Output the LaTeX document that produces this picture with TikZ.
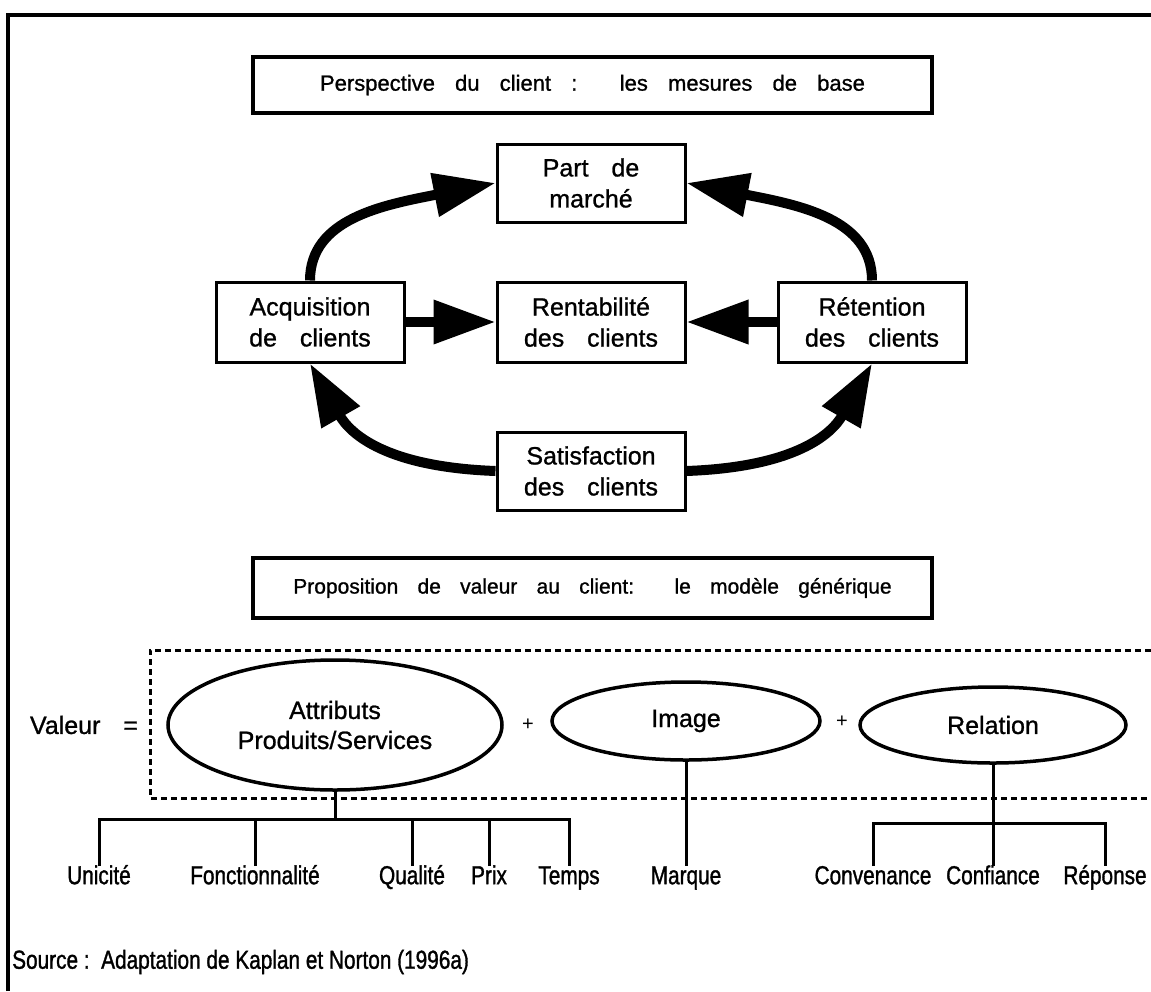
\documentclass[tikz,border=0pt]{standalone}
\usepackage{fontspec}
\setmainfont{Liberation Sans}
\newfontfamily\widefont[WordSpace=3.3,FakeBold=1]{Liberation Sans}
\newfontfamily\narrowfont[FakeStretch=0.8,FakeBold=1.2]{Liberation Sans}
\usetikzlibrary{arrows.meta,shapes.geometric}

\tikzset{
  titlebox/.style={draw,line width=3.5pt,minimum width=679pt,font=\widefont\fontsize{22}{26}\selectfont},
  measbox/.style={draw,line width=3pt,minimum width=188pt,minimum height=78pt,align=center,font=\widefont\fontsize{25}{31}\selectfont},
  fat/.style={line width=10pt,-{Triangle[length=62pt,width=42pt]}},
  valell/.style={draw,ellipse,line width=3.5pt,inner sep=0pt,align=center,font=\widefont\fontsize{25}{30}\selectfont},
  lbl/.style={anchor=north,inner sep=0pt,text height=18pt,text depth=5pt,font=\narrowfont\fontsize{26}{30}\selectfont},
  tree/.style={line width=3pt},
}

\begin{document}
\begin{tikzpicture}[x=1pt,y=-1pt]
   \useasboundingbox (0,0) rectangle (1151,991);
   \draw[line width=4pt] (8,991) -- (8,15) -- (1151,15);
   % perspective du client
   \begin{scope}
    \node[titlebox,minimum height=56pt] (pers) at (592.5,85) {Perspective du client : \ les mesures de base};
    \node[measbox] (part) at (591,183) {Part de\\march\'e};
    \node[measbox,minimum height=80pt] (acq) at (310,322) {Acquisition\\de clients};
    \node[measbox,minimum height=80pt] (rent) at (591,322) {Rentabilit\'e\\des clients};
    \node[measbox,minimum height=80pt] (ret) at (872,322) {R\'etention\\des clients};
    \node[measbox] (sat) at (591,471) {Satisfaction\\des clients};
    \draw[fat] (acq.north) .. controls +(0,-62) and +(-112,22) .. (part.west);
    \draw[fat] (ret.north) .. controls +(0,-62) and +(112,22) .. (part.east);
    \draw[fat] (acq.east) -- (rent.west);
    \draw[fat] (ret.west) -- (rent.east);
    \draw[fat] (sat.west) .. controls +(-110,-4) and +(40,70) .. (acq.south);
    \draw[fat] (sat.east) .. controls +(110,-4) and +(-40,70) .. (ret.south);
   \end{scope}
   % proposition de valeur
   \begin{scope}
    \node[titlebox,minimum height=60pt,font=\widefont\fontsize{21}{25}\selectfont] (prop) at (592.5,588) {Proposition de valeur au client: \ le mod\`ele g\'en\'erique};
    \draw[line width=3pt,dash pattern=on 6pt off 4pt] (1151,650) -| (150,798) -- (1151,798);
    \node[font=\widefont\fontsize{25}{30}\selectfont] (val) at (84,725) {Valeur =};
    \node[valell,minimum width=334pt,minimum height=130pt] (attr) at (335,725) {Attributs\\Produits/Services};
    \node[font=\fontsize{20}{24}\selectfont] (plusa) at (528,725) {+};
    \node[valell,minimum width=268pt,minimum height=78pt] (img) at (686,721) {Image};
    \node[font=\fontsize{20}{24}\selectfont] (plusb) at (842,722) {+};
    \node[valell,minimum width=266pt,minimum height=76pt] (rel) at (993,725) {Relation};
    \foreach \n/\x/\t in {uni/99/Unicit\'e,fon/255/Fonctionnalit\'e,qua/412/Qualit\'e,pri/489/Prix,tem/569/Temps,mar/686/Marque,conv/873/Convenance,conf/993/Confiance,rep/1105/R\'eponse}
     \node[lbl] (\n) at (\x,866) {\t};
    \coordinate (aj) at (335,819);
    \coordinate (rj) at (993,823);
    \draw[tree] (attr.south) -- (aj);
    \draw[tree] (uni.north) |- (aj) -| (tem.north);
    \foreach \n in {fon,qua,pri}
     \draw[tree] (\n.north) -- (\n.north |- aj);
    \draw[tree] (img.south) -- (mar.north);
    \draw[tree] (rel.south) -- (conf.north);
    \draw[tree] (conv.north) |- (rj) -| (rep.north);
   \end{scope}
   \node[anchor=west,inner sep=0pt,font=\narrowfont\fontsize{26}{30}\selectfont] (src) at (12,962) {Source :\ \ Adaptation de Kaplan et Norton (1996a)};
\end{tikzpicture}
\end{document}
